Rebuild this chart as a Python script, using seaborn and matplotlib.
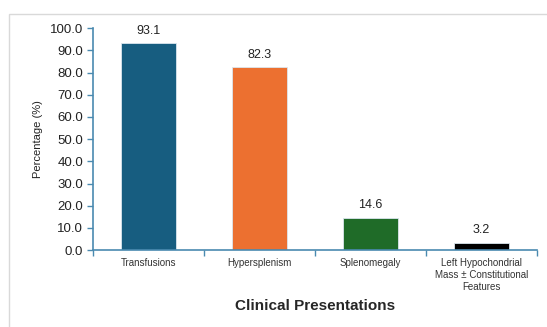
import matplotlib
matplotlib.use("Agg")
import matplotlib.pyplot as plt
import seaborn as sns
import pandas as pd
from matplotlib.patches import Rectangle
from matplotlib.ticker import FixedLocator

categories = ["Transfusions", "Hypersplenism", "Splenomegaly",
              "Left Hypochondrial\nMass \u00b1 Constitutional\nFeatures"]
values = [93.1, 82.3, 14.6, 3.2]
colors = ["#175d80", "#ec7030", "#1f6b28", "#000000"]

df = pd.DataFrame({"cat": categories, "val": values})

sns.set_style("white")
plt.rcParams["font.family"] = ["Liberation Sans", "DejaVu Sans"]

fig = plt.figure(figsize=(5.47, 3.27), dpi=100)
ax = fig.add_axes([0.170, 0.235, 0.812, 0.679])

sns.barplot(data=df, x="cat", y="val", hue="cat", palette=colors, saturation=1,
            legend=False, width=0.5, ax=ax, edgecolor="#dbe6ee", linewidth=0.6)

for i, v in enumerate(values):
    ax.text(i, v + 3, f"{v:.1f}", ha="center", va="bottom", fontsize=9, color="#222222")

ax.set_ylim(0, 100)
ax.set_xlim(-0.5, 3.5)
ax.set_yticks(range(0, 101, 10))
ax.set_yticklabels([f"{t:.1f}" for t in range(0, 101, 10)], fontsize=9.5, color="#222222")
ax.tick_params(axis="x", which="major", length=0, labelsize=7, labelcolor="#333333", pad=6)
ax.xaxis.set_minor_locator(FixedLocator([-0.5, 0.5, 1.5, 2.5, 3.5]))
ax.tick_params(axis="x", which="minor", bottom=True, length=4, width=1,
               color="#4a8ab0", direction="out")
ax.tick_params(axis="y", left=True, length=4, width=1, color="#4a8ab0",
               direction="out", pad=3)

for s in ["top", "right"]:
    ax.spines[s].set_visible(False)
for s in ["left", "bottom"]:
    ax.spines[s].set_color("#4a8ab0")
    ax.spines[s].set_linewidth(1.2)

ax.set_xlabel("Clinical Presentations", fontsize=11, fontweight="bold", labelpad=5)
ax.set_ylabel("Percentage (%)", fontsize=8, labelpad=5, color="#222222")

fig.patches.append(Rectangle((9 / 547, -0.1), 1.1, 1 - 14 / 327 + 0.1,
                             transform=fig.transFigure, fill=False,
                             edgecolor="#d9d9d9", linewidth=1))

fig.savefig("out.png", dpi=100)
